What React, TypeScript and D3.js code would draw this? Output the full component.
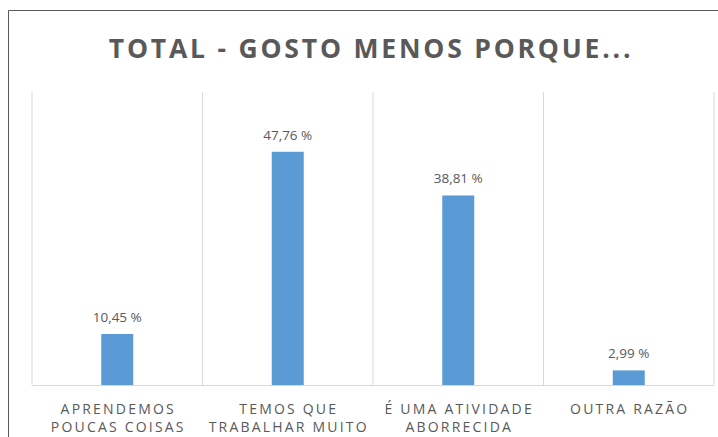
import React from "react";
import * as d3 from "d3";

const categories: string[][] = [
  ["APRENDEMOS", "POUCAS COISAS"],
  ["TEMOS QUE", "TRABALHAR MUITO"],
  ["É UMA ATIVIDADE", "ABORRECIDA"],
  ["OUTRA RAZÃO"],
];
const values: number[] = [10.45, 47.76, 38.81, 2.99];
const valueLabels: string[] = ["10,45 %", "47,76 %", "38,81 %", "2,99 %"];
const title = "TOTAL - GOSTO MENOS PORQUE...";

export default function App() {
  const W = 718, H = 437;
  const left = 32, right = 714, top = 92, bottom = 385;
  const x = d3.scaleBand<number>().domain(d3.range(values.length)).range([left, right]).paddingInner(0).paddingOuter(0);
  const y = d3.scaleLinear().domain([0, 60]).range([bottom, top]);
  const bw = 32;
  const font = "'Open Sans', sans-serif";
  const grid = d3.range(values.length + 1).map((i) => left + i * x.step());
  return (
    <svg width={W} height={H} style={{ position: "absolute", left: 0, top: 0, background: "#fff" }}>
      <rect x={0} y={0} width={W} height={H} fill="#fff" />
      <line x1={8.5} y1={10.5} x2={W} y2={10.5} stroke="#595959" strokeWidth={1} />
      <line x1={8.5} y1={10.5} x2={8.5} y2={H} stroke="#595959" strokeWidth={1} />
      <text x={371} y={58} textAnchor="middle" fontFamily={font} fontWeight={700} fontSize={26.5} letterSpacing={2.8} fill="#595959">{title}</text>
      {grid.map((gx, i) => (
        <line key={i} x1={gx} x2={gx} y1={top} y2={bottom} stroke="#d9d9d9" strokeWidth={1} />
      ))}
      <line x1={left} x2={right} y1={bottom + 0.5} y2={bottom + 0.5} stroke="#d9d9d9" strokeWidth={1} />
      {values.map((v, i) => {
        const cx = x(i)! + x.bandwidth() / 2;
        return (
          <g key={i}>
            <rect x={cx - bw / 2} y={y(v)} width={bw} height={bottom - y(v)} fill="#5b9bd5" />
            <text x={cx} y={y(v) - 12} textAnchor="middle" fontFamily={font} fontSize={13.5} fill="#595959">{valueLabels[i]}</text>
            {categories[i].map((ln, j) => (
              <text key={j} x={cx + 1} y={414 + j * 18} textAnchor="middle" fontFamily={font} fontSize={14} letterSpacing={2.2} fill="#595959">{ln}</text>
            ))}
          </g>
        );
      })}
    </svg>
  );
}
